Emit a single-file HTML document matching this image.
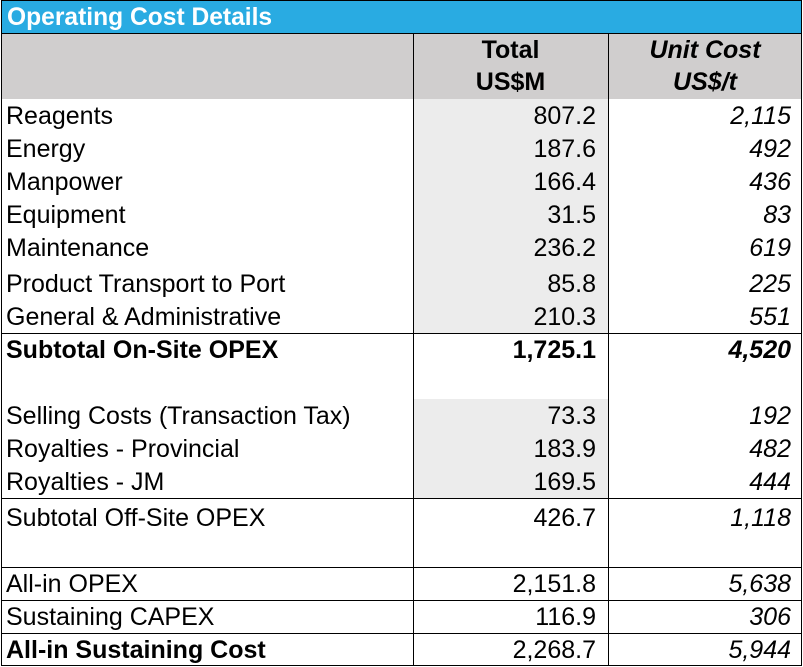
<!DOCTYPE html>
<html><head><meta charset="utf-8"><style>
body{margin:0;width:803px;height:667px;background:#fff;font-family:"Liberation Sans",Arial,sans-serif;position:relative;overflow:hidden}
div{position:absolute;box-sizing:border-box}
.t{font-size:25px;line-height:33px;color:#000;white-space:nowrap}
.l{left:6px}
.v{right:207px;text-align:right}
.u{right:12px;text-align:right;font-style:italic}
.b{font-weight:bold}
.hl{height:1px;background:#000;left:1px;width:801px}
.vl{width:1px;background:#000}
</style></head><body>
<div style="left:1px;top:1px;width:801px;height:33px;background:#29abe2;color:#fff;font-weight:bold;font-size:24.6px;line-height:33px;padding-left:6px">Operating Cost Details</div>
<div style="left:1px;top:34px;width:801px;height:65px;background:#d0cece"></div>
<div class="t b" style="left:413px;width:195px;top:34px;text-align:center;line-height:32px">Total<br>US$M</div>
<div class="t b" style="left:608px;width:194px;top:34px;text-align:center;font-style:italic;line-height:32px">Unit Cost<br>US$/t</div>
<div style="left:414px;top:99px;width:194px;height:234px;background:#ececec"></div>
<div style="left:414px;top:399px;width:194px;height:99px;background:#ececec"></div>
<div class="hl" style="top:0"></div>
<div class="hl" style="top:33px"></div>
<div class="hl" style="top:333px"></div>
<div class="hl" style="top:498px"></div>
<div class="hl" style="top:567px"></div>
<div class="hl" style="top:600px"></div>
<div class="hl" style="top:633px"></div>
<div class="hl" style="top:665px"></div>
<div class="vl" style="left:1px;top:0;height:666px"></div>
<div class="vl" style="left:801px;top:0;height:666px"></div>
<div class="vl" style="left:413px;top:33px;height:633px"></div>
<div class="vl" style="left:608px;top:33px;height:633px"></div>
<script>
const labels=["Reagents","Energy","Manpower","Equipment","Maintenance","Product Transport to Port","General & Administrative","Subtotal On-Site OPEX","Selling Costs (Transaction Tax)","Royalties - Provincial","Royalties - JM","Subtotal Off-Site OPEX","All-in OPEX","Sustaining CAPEX","All-in Sustaining Cost"];
const totals=["807.2","187.6","166.4","31.5","236.2","85.8","210.3","1,725.1","73.3","183.9","169.5","426.7","2,151.8","116.9","2,268.7"];
const units=["2,115","492","436","83","619","225","551","4,520","192","482","444","1,118","5,638","306","5,944"];
const tops=[100,133,166,199,232,268,301,334,400,433,466,502,568,601,634];
const bold=[7,14];
const root=document.body;
labels.forEach((lab,i)=>{
  const b=bold.includes(i)?' b':'';
  const a=document.createElement('div');a.className='t l'+b;a.style.top=tops[i]+'px';a.textContent=lab;
  
  
  const c=document.createElement('div');c.className='t v'+(i==7?' b':'');c.style.top=tops[i]+'px';c.textContent=totals[i];
  
  
  const d=document.createElement('div');d.className='t u'+(i==7?' b':'');d.style.top=tops[i]+'px';d.textContent=units[i];
  
  
  root.append(a,c,d);
});
</script>
</body></html>
